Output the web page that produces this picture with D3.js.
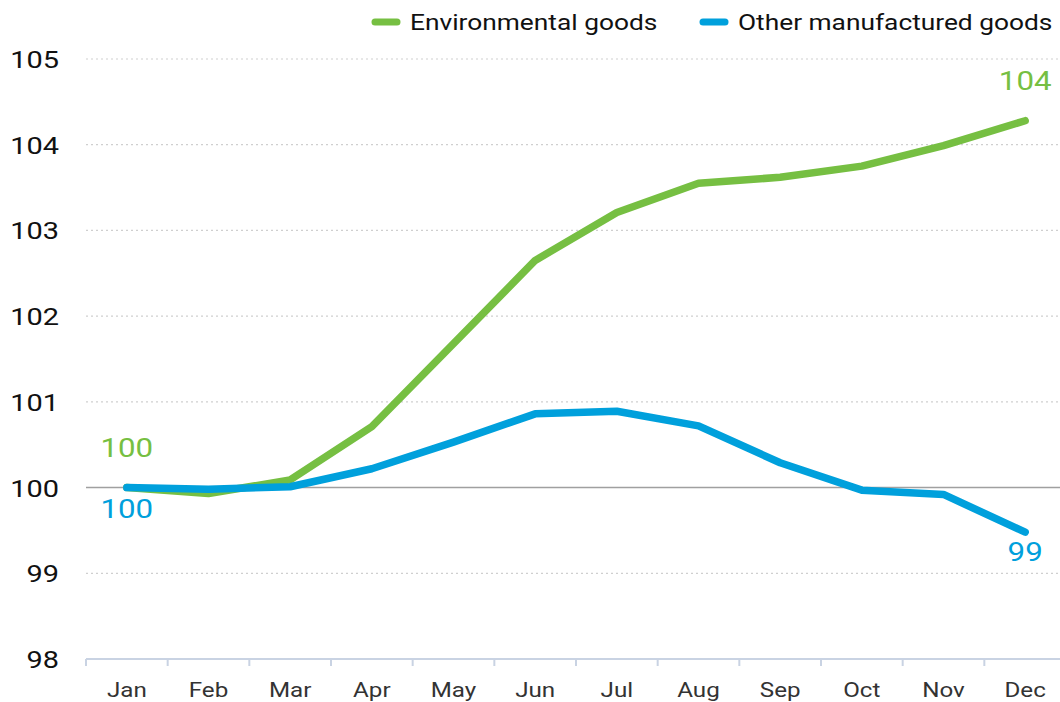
<!DOCTYPE html>
<html><head><meta charset="utf-8">
<script src="https://cdn.jsdelivr.net/npm/d3@7"></script>
<style>
html,body{margin:0;padding:0;background:#fff;}
svg{display:block;font-family:Roboto,"Noto Sans",sans-serif;}
</style></head>
<body>
<svg id="chart" width="1060" height="702"></svg>
<script>
const months = ["Jan","Feb","Mar","Apr","May","Jun","Jul","Aug","Sep","Oct","Nov","Dec"];
const environmental = [100, 99.93, 100.09, 100.71, 101.68, 102.65, 103.21, 103.55, 103.62, 103.75, 103.99, 104.28];
const otherGoods = [100, 99.98, 100.01, 100.22, 100.53, 100.86, 100.89, 100.72, 100.29, 99.97, 99.92, 99.48];
const yTicks = [98, 99, 100, 101, 102, 103, 104, 105];
const seriesNames = ["Environmental goods", "Other manufactured goods"];
const colors = ["#76bf42", "#00a0dc"];
const startLabels = ["100", "100"];
const endLabels = ["104", "99"];

const svg = d3.select("#chart");
const SX = 1.18;
function txt(sel, x, y, s, opts) {
  const t = sel.append("text")
    .attr("transform", `translate(${x},${y}) scale(${SX},1)`)
    .attr("text-anchor", opts.anchor || "start")
    .attr("font-size", opts.size)
    .attr("fill", opts.fill)
    .text(s);
  return t;
}

const x = d3.scaleBand().domain(months).range([86, 1066]).padding(0);
const cx = m => x(m) + x.bandwidth() / 2;
const y = d3.scaleLinear().domain([98, 105]).range([659, 59]);

// gridlines
const grid = svg.append("g");
yTicks.filter(t => t !== 98 && t !== 100).forEach(t => {
  grid.append("line").attr("x1", 86).attr("x2", 1060)
    .attr("y1", y(t)).attr("y2", y(t))
    .attr("stroke", "#cfcfcf").attr("stroke-width", 1.2)
    .attr("stroke-dasharray", "2,3");
});
grid.append("line").attr("x1", 86).attr("x2", 1060)
  .attr("y1", y(100)).attr("y2", y(100))
  .attr("stroke", "#a0a0a0").attr("stroke-width", 1.5);

// y labels
yTicks.forEach(t => {
  txt(svg, 59, y(t) + 9, String(t), {anchor: "end", size: 24.5, fill: "#111"});
});

// x axis
const xa = svg.append("g");
xa.append("line").attr("x1", 86).attr("x2", 1060).attr("y1", 659).attr("y2", 659)
  .attr("stroke", "#c9d3e3").attr("stroke-width", 2);
months.forEach(m => {
  xa.append("line").attr("x1", x(m)).attr("x2", x(m)).attr("y1", 659).attr("y2", 666)
    .attr("stroke", "#c9d3e3").attr("stroke-width", 2);
  txt(xa, cx(m), 697, m, {anchor: "middle", size: 20.5, fill: "#333"});
});

// lines
const line = d3.line().x((d, i) => cx(months[i])).y(d => y(d));
[environmental, otherGoods].forEach((s, k) => {
  svg.append("path").datum(s).attr("d", line)
    .attr("fill", "none").attr("stroke", colors[k]).attr("stroke-width", 7.5)
    .attr("stroke-linecap", "round").attr("stroke-linejoin", "round");
});

// annotations
txt(svg, cx("Jan"), 457, startLabels[0], {anchor: "middle", size: 26.5, fill: colors[0]});
txt(svg, cx("Jan"), 518, startLabels[1], {anchor: "middle", size: 26.5, fill: colors[1]});
txt(svg, cx("Dec"), 90, endLabels[0], {anchor: "middle", size: 26.5, fill: colors[0]});
txt(svg, cx("Dec"), 561, endLabels[1], {anchor: "middle", size: 26.5, fill: colors[1]});

// legend
const leg = svg.append("g");
const legX = [372, 700];
seriesNames.forEach((n, k) => {
  leg.append("line").attr("x1", legX[k] + 3).attr("x2", legX[k] + 25).attr("y1", 22).attr("y2", 22)
    .attr("stroke", colors[k]).attr("stroke-width", 7).attr("stroke-linecap", "round");
  txt(leg, legX[k] + 38, 30, n, {anchor: "start", size: 22.3, fill: "#111"});
});
</script>
</body></html>
